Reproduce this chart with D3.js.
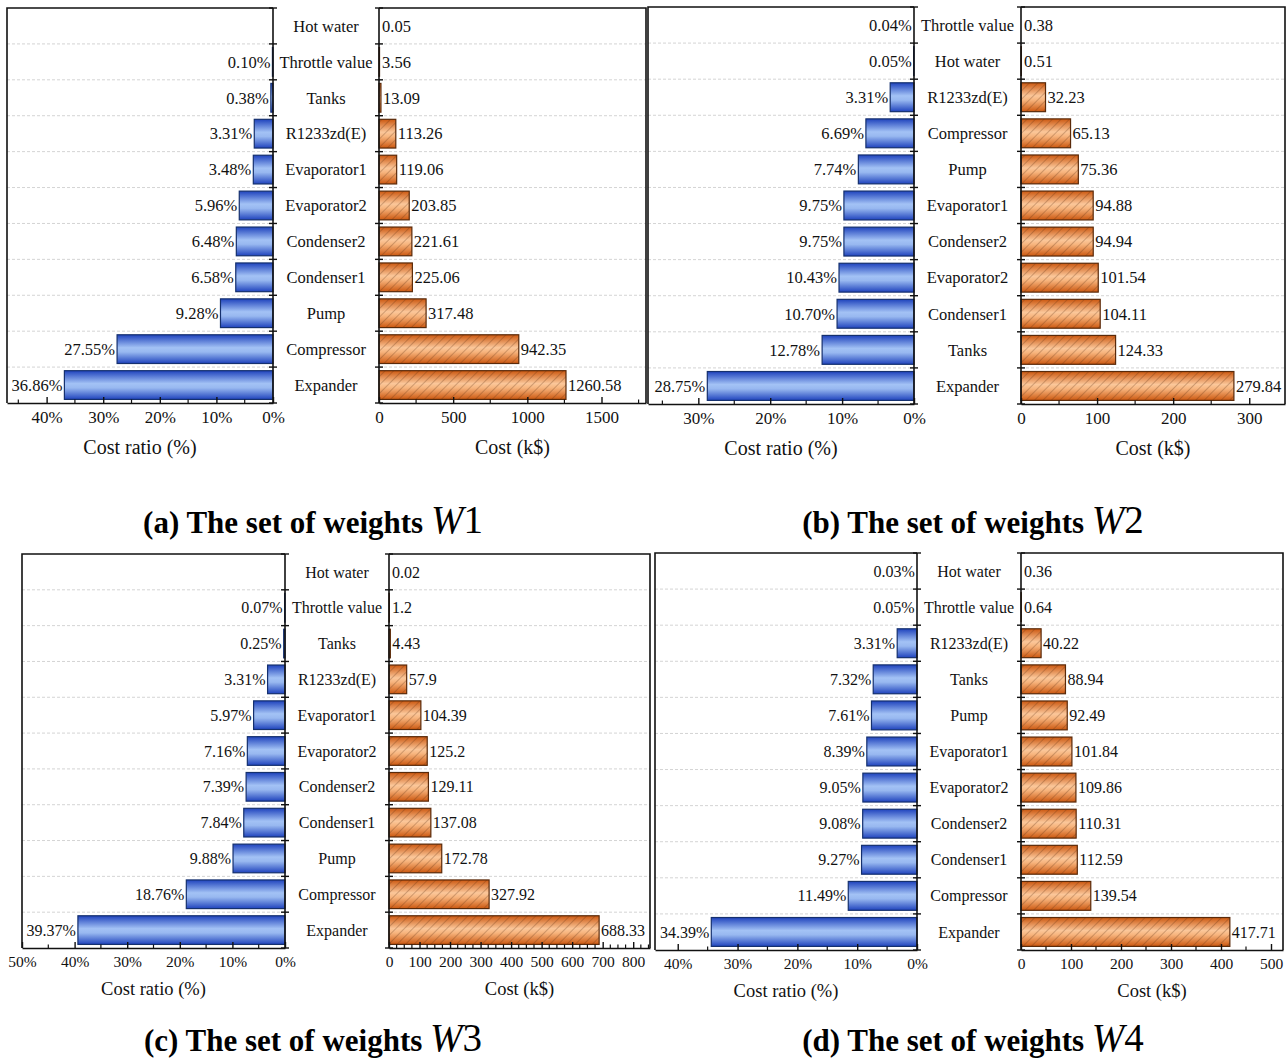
<!DOCTYPE html>
<html><head><meta charset="utf-8">
<script src="https://cdn.jsdelivr.net/npm/d3@7/dist/d3.min.js"></script>
<style>body{margin:0;background:#fff}svg{display:block;font-family:"Liberation Serif","Times New Roman",serif}</style>
</head><body>
<script>
// ---- data ----
const categoriesW1 = ["Hot water","Throttle value","Tanks","R1233zd(E)","Evaporator1","Evaporator2","Condenser2","Condenser1","Pump","Compressor","Expander"];
const ratioW1 = [null,0.10,0.38,3.31,3.48,5.96,6.48,6.58,9.28,27.55,36.86];
const costW1 = [0.05,3.56,13.09,113.26,119.06,203.85,221.61,225.06,317.48,942.35,1260.58];

const categoriesW2 = ["Throttle value","Hot water","R1233zd(E)","Compressor","Pump","Evaporator1","Condenser2","Evaporator2","Condenser1","Tanks","Expander"];
const ratioW2 = [0.04,0.05,3.31,6.69,7.74,9.75,9.75,10.43,10.70,12.78,28.75];
const costW2 = [0.38,0.51,32.23,65.13,75.36,94.88,94.94,101.54,104.11,124.33,279.84];

const categoriesW3 = ["Hot water","Throttle value","Tanks","R1233zd(E)","Evaporator1","Evaporator2","Condenser2","Condenser1","Pump","Compressor","Expander"];
const ratioW3 = [null,0.07,0.25,3.31,5.97,7.16,7.39,7.84,9.88,18.76,39.37];
const costW3 = [0.02,1.2,4.43,57.9,104.39,125.2,129.11,137.08,172.78,327.92,688.33];

const categoriesW4 = ["Hot water","Throttle value","R1233zd(E)","Tanks","Pump","Evaporator1","Evaporator2","Condenser2","Condenser1","Compressor","Expander"];
const ratioW4 = [0.03,0.05,3.31,7.32,7.61,8.39,9.05,9.08,9.27,11.49,34.39];
const costW4 = [0.36,0.64,40.22,88.94,92.49,101.84,109.86,110.31,112.59,139.54,417.71];

const ratioTicksW1 = [0,10,20,30,40], costTicksW1 = [0,500,1000,1500];
const ratioTicksW2 = [0,10,20,30], costTicksW2 = [0,100,200,300];
const ratioTicksW3 = [0,10,20,30,40,50], costTicksW3 = [0,100,200,300,400,500,600,700,800];
const ratioTicksW4 = [0,10,20,30,40], costTicksW4 = [0,100,200,300,400,500];

const titles = [["(a) The set of weights ","W","1"],["(b) The set of weights ","W","2"],["(c) The set of weights ","W","3"],["(d) The set of weights ","W","4"]];
const ratioTitle = "Cost ratio (%)", costTitle = "Cost (k$)";

// ---- layout ----
const W = 1287, H = 1059;
const svg = d3.select("body").append("svg").attr("width", W).attr("height", H);
const defs = svg.append("defs");

const blue = defs.append("linearGradient").attr("id","gBlue").attr("x1",0).attr("y1",0).attr("x2",0).attr("y2",1);
blue.append("stop").attr("offset","0%").attr("stop-color","#1f43bd");
blue.append("stop").attr("offset","45%").attr("stop-color","#a3c2f5");
blue.append("stop").attr("offset","60%").attr("stop-color","#98b8f0");
blue.append("stop").attr("offset","100%").attr("stop-color","#1f43bd");
const orng = defs.append("linearGradient").attr("id","gOrange").attr("x1",0).attr("y1",0).attr("x2",0).attr("y2",1);
orng.append("stop").attr("offset","0%").attr("stop-color","#cc5810");
orng.append("stop").attr("offset","45%").attr("stop-color","#fbc79a");
orng.append("stop").attr("offset","60%").attr("stop-color","#f7b47d");
orng.append("stop").attr("offset","100%").attr("stop-color","#cc5810");
const hatch = defs.append("pattern").attr("id","hatch").attr("patternUnits","userSpaceOnUse")
  .attr("width",6).attr("height",6).attr("patternTransform","rotate(45)");
hatch.append("line").attr("x1",0).attr("y1",0).attr("x2",0).attr("y2",6)
  .attr("stroke","#5a2c10").attr("stroke-width",0.7).attr("stroke-opacity",0.8);

const panels = [
  {cats:categoriesW1, ratio:ratioW1, cost:costW1, rt:ratioTicksW1, ct:costTicksW1, rmax:47, cmax:1800,
   lx0:7, lx1:273, rx0:379, rx1:646, top:8, bot:403, fs:16.5, tfs:17, afs:20, ty:533, tcx:313},
  {cats:categoriesW2, ratio:ratioW2, cost:costW2, rt:ratioTicksW2, ct:costTicksW2, rmax:37, cmax:347,
   lx0:648, lx1:914, rx0:1021, rx1:1285, top:7, bot:404, fs:16.5, tfs:17, afs:20, ty:533, tcx:973},
  {cats:categoriesW3, ratio:ratioW3, cost:costW3, rt:ratioTicksW3, ct:costTicksW3, rmax:50, cmax:855,
   lx0:22, lx1:285, rx0:389, rx1:650, top:554, bot:948, fs:16, tfs:15.5, afs:18.5, ty:1051, tcx:313},
  {cats:categoriesW4, ratio:ratioW4, cost:costW4, rt:ratioTicksW4, ct:costTicksW4, rmax:43.8, cmax:524,
   lx0:655, lx1:917, rx0:1021, rx1:1283, top:553, bot:950, fs:16, tfs:15.5, afs:18.5, ty:1051, tcx:973}
];

panels.forEach((p, pi) => {
  const g = svg.append("g");
  const y = d3.scaleBand().domain(p.cats).range([p.top, p.bot]).paddingInner(0.2).paddingOuter(0.1);
  const yb = d3.scaleBand().domain(p.cats).range([p.top, p.bot]).padding(0);
  const xl = d3.scaleLinear().domain([0, p.rmax]).range([p.lx1, p.lx0]);
  const xr = d3.scaleLinear().domain([0, p.cmax]).range([p.rx0, p.rx1]);
  const step = yb.step();

  // grid lines
  p.cats.slice(1).forEach(c => {
    const yy = yb(c);
    [[p.lx0, p.lx1],[p.rx0, p.rx1]].forEach(([a,b]) => {
      g.append("line").attr("x1",a).attr("x2",b).attr("y1",yy).attr("y2",yy)
        .attr("stroke","#d4d4d4").attr("stroke-width",1).attr("stroke-dasharray","3,2");
    });
  });

  // ratio bars
  const bl = g.append("g");
  p.cats.forEach((c,i) => {
    const v = p.ratio[i];
    if (v === null) return;
    const x0 = xl(v), w = p.lx1 - x0;
    if (w > 0.3) bl.append("rect").attr("x",x0).attr("y",y(c)).attr("width",w).attr("height",y.bandwidth())
      .attr("fill","url(#gBlue)").attr("stroke","#15306e").attr("stroke-width",1.2);
    bl.append("text").attr("x", x0 - 2).attr("y", y(c)+y.bandwidth()/2).attr("dy","0.35em")
      .attr("text-anchor","end").attr("font-size",p.fs).attr("fill","#111")
      .text(v.toFixed(2)+"%");
  });

  // cost bars
  const br = g.append("g");
  p.cats.forEach((c,i) => {
    const v = p.cost[i];
    const x1 = xr(v), w = x1 - p.rx0;
    if (w > 0.3) {
      br.append("rect").attr("x",p.rx0).attr("y",y(c)).attr("width",w).attr("height",y.bandwidth())
        .attr("fill","url(#gOrange)");
      br.append("rect").attr("x",p.rx0).attr("y",y(c)).attr("width",w).attr("height",y.bandwidth())
        .attr("fill","url(#hatch)").attr("stroke","#5a2a0a").attr("stroke-width",1.2);
    }
    br.append("text").attr("x", Math.max(x1, p.rx0+1) + 2).attr("y", y(c)+y.bandwidth()/2).attr("dy","0.35em")
      .attr("text-anchor","start").attr("font-size",p.fs).attr("fill","#111")
      .text(String(v));
  });

  // category labels
  p.cats.forEach(c => {
    g.append("text").attr("x",(p.lx1+p.rx0)/2).attr("y",yb(c)+step/2).attr("dy","0.35em")
      .attr("text-anchor","middle").attr("font-size",p.fs).attr("fill","#111").text(c);
  });

  // frames
  const st = {stroke:"#111","stroke-width":1.6,fill:"none"};
  const frame = (d) => { const e = g.append("path").attr("d",d); Object.entries(st).forEach(([k,v])=>e.attr(k,v)); };
  frame(`M${p.lx1},${p.top}H${p.lx0}V${p.bot}`);
  frame(`M${p.rx0},${p.top}H${p.rx1}V${p.bot}`);

  // y axes at zero lines with band-boundary ticks
  const yTickVals = p.cats.map(c => yb(c)).concat([p.bot]);
  [p.lx1, p.rx0].forEach(xx => {
    g.append("line").attr("x1",xx).attr("x2",xx).attr("y1",p.top).attr("y2",p.bot).attr("stroke","#111").attr("stroke-width",1.6);
    yTickVals.forEach(yy => g.append("line").attr("x1",xx-4).attr("x2",xx+4).attr("y1",yy).attr("y2",yy).attr("stroke","#111").attr("stroke-width",1.4));
  });

  // x axes
  const axL = d3.axisBottom(xl).tickValues(p.rt).tickFormat(d => d+"%").tickSizeInner(-6).tickSizeOuter(0).tickPadding(8);
  const axR = d3.axisBottom(xr).tickValues(p.ct).tickFormat(d => d).tickSizeInner(-6).tickSizeOuter(0).tickPadding(8);
  [[axL, xl, p.rt],[axR, xr, p.ct]].forEach(([ax, sc, tv]) => {
    const a = g.append("g").attr("transform",`translate(0,${p.bot})`).call(ax);
    a.select(".domain").attr("stroke","#111").attr("stroke-width",1.6);
    a.selectAll(".tick line").attr("stroke","#111").attr("stroke-width",1.4);
    a.selectAll("text").attr("font-size",p.tfs).attr("fill","#111").attr("font-family","Liberation Serif");
    // minor ticks
    const stepv = tv[1]-tv[0];
    const nsub = (sc === xr && pi === 2) ? 4 : 2;
    const [d0, d1] = sc.domain();
    for (let v = 0; v <= d1 + 1e-9; v += stepv/nsub) {
      if (tv.some(t => Math.abs(t - v) < 1e-9)) continue;
      a.append("line").attr("x1",sc(v)).attr("x2",sc(v)).attr("y1",0).attr("y2",-3.5).attr("stroke","#111").attr("stroke-width",1.2);
    }
  });

  // axis titles
  const atY = pi < 2 ? p.bot + 51 : p.bot + 47;
  g.append("text").attr("x",(p.lx0+p.lx1)/2).attr("y",atY).attr("text-anchor","middle").attr("font-size",p.afs).attr("fill","#111").text(ratioTitle);
  g.append("text").attr("x",(p.rx0+p.rx1)/2).attr("y",atY).attr("text-anchor","middle").attr("font-size",p.afs).attr("fill","#111").text(costTitle);

  // panel title
  const t = svg.append("text").attr("x",p.tcx).attr("y",p.ty).attr("text-anchor","middle").attr("fill","#000");
  t.append("tspan").attr("font-size",31).attr("font-weight","bold").text(titles[pi][0]);
  t.append("tspan").attr("font-size",39).attr("font-style","italic").text(titles[pi][1]);
  t.append("tspan").attr("font-size",39).text(titles[pi][2]);
});
</script>
</body></html>
